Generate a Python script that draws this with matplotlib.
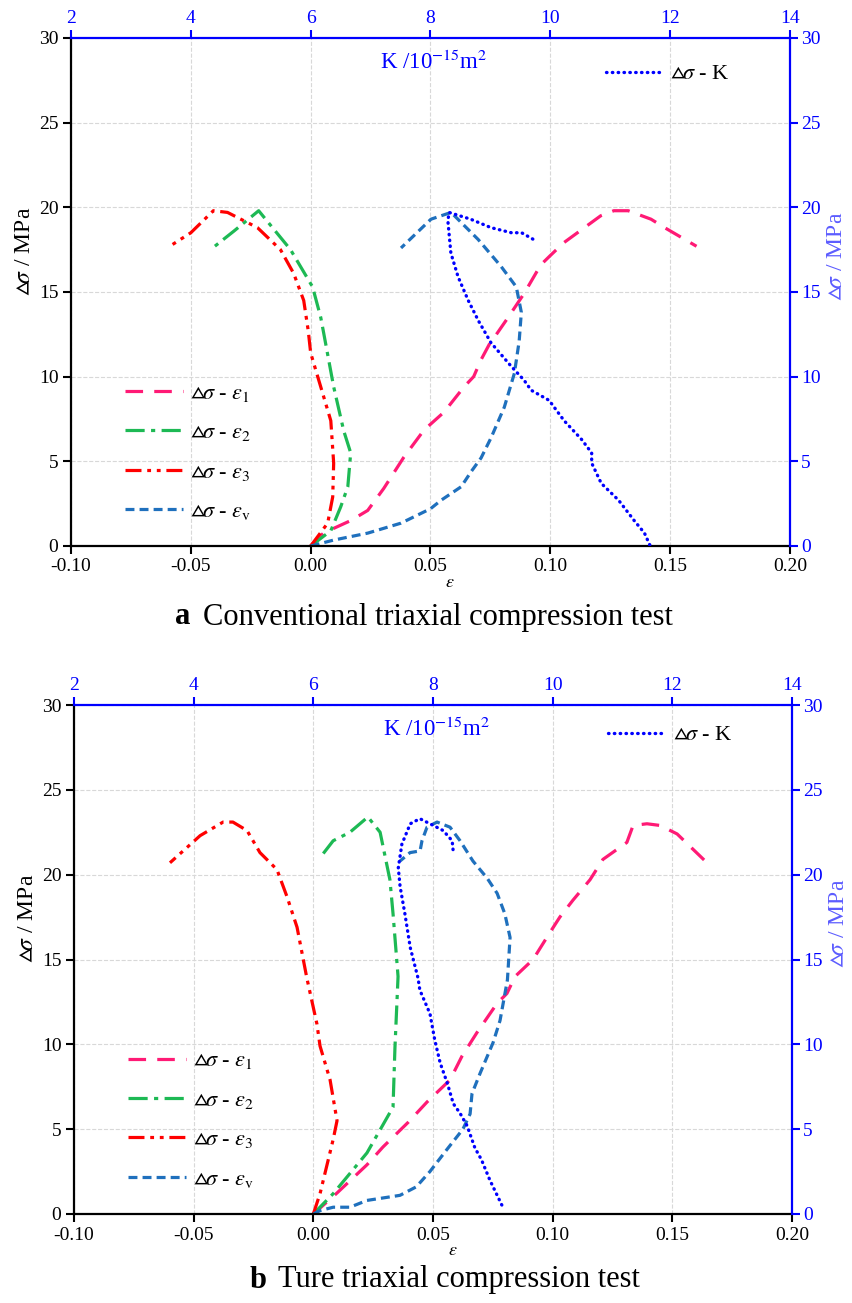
import matplotlib
matplotlib.use('Agg')
import matplotlib.pyplot as plt

plt.rcParams['font.family'] = ['Liberation Serif', 'DejaVu Serif']
plt.rcParams['mathtext.fontset'] = 'stix'

# ---- data, panel a (conventional triaxial) ----
a_e1_eps = [0, 0.0054, 0.0167, 0.0238, 0.0305, 0.0389, 0.0473, 0.0556, 0.064, 0.068, 0.0711, 0.0745,
            0.078, 0.0824, 0.089, 0.096, 0.0996, 0.1055, 0.121, 0.1265, 0.1325, 0.142, 0.1477, 0.161]
a_e1_ds = [0, 0.77, 1.5, 2.1, 3.4, 5.25, 6.85, 7.9, 9.4, 10.0, 11.0, 11.9,
           12.6, 13.5, 14.9, 16.6, 17.1, 17.9, 19.5, 19.8, 19.8, 19.3, 18.8, 17.7]
a_e2_eps = [0, 0.0084, 0.0125, 0.0155, 0.0167, 0.0138, 0.0096, 0.0054, 0.0042, 0.0008, -0.0084,
            -0.0217, -0.032, -0.0418]
a_e2_ds = [0, 0.9, 2.3, 3.5, 5.5, 6.8, 9.4, 12.6, 13.5, 15.3, 17.5, 19.8, 18.6, 17.5]
a_e3_eps = [0, 0.0071, 0.0092, 0.0096, 0.0084, 0.0042, 0, -0.001, -0.0029, -0.0071, -0.0126,
            -0.0222, -0.0347, -0.0406, -0.050, -0.0577]
a_e3_ds = [0, 1.35, 2.9, 4.9, 7.4, 9.4, 11.4, 12.7, 14.5, 16.1, 17.5, 18.8, 19.7, 19.8, 18.5, 17.8]
a_ev_eps = [0, 0.0096, 0.0238, 0.0377, 0.05, 0.0544, 0.0628, 0.067, 0.0711, 0.0753, 0.0808, 0.085,
            0.087, 0.0879, 0.0858, 0.0795, 0.0699, 0.0586, 0.0502, 0.0377]
a_ev_ds = [0, 0.35, 0.76, 1.35, 2.2, 2.7, 3.5, 4.4, 5.2, 6.4, 8.2, 10.2, 12.1, 13.8, 15.3, 16.5,
           18.1, 19.7, 19.3, 17.6]
a_k = [11.66, 11.57, 11.4, 11.14, 10.85, 10.69, 10.69, 10.52, 10.23, 9.98, 9.68, 9.56, 9.35, 9.01,
       8.8, 8.63, 8.46, 8.34, 8.29, 8.31, 8.67, 9.01, 9.35, 9.52, 9.72]
a_k_ds = [0.06, 0.77, 1.5, 2.7, 3.7, 4.9, 5.5, 6.3, 7.4, 8.6, 9.2, 9.8, 10.6, 12.0, 13.3, 14.5,
          15.9, 17.3, 19.2, 19.7, 19.3, 18.8, 18.5, 18.5, 18.1]

# ---- data, panel b (true triaxial) ----
b_e1_eps = [0, 0.0099, 0.0224, 0.0291, 0.0396, 0.0475, 0.0571, 0.0621, 0.0684, 0.0767, 0.0809, 0.0843,
            0.0918, 0.0989, 0.103, 0.1085, 0.1156, 0.121, 0.131, 0.1336, 0.1394, 0.1449, 0.152, 0.1645]
b_e1_ds = [0, 1.24, 2.9, 3.95, 5.4, 6.6, 7.9, 9.3, 10.7, 12.4, 13.0, 14.0, 15.0, 16.6, 17.5, 18.5,
           19.7, 20.9, 21.9, 22.9, 23.0, 22.9, 22.4, 20.7]
b_e2_eps = [0, 0.0083, 0.0224, 0.0333, 0.0341, 0.0354, 0.0333, 0.032, 0.0279, 0.0228, 0.0153,
            0.0083, 0.0028]
b_e2_ds = [0, 1.2, 3.6, 6.3, 9.8, 14.0, 17.7, 19.7, 22.5, 23.4, 22.5, 22.0, 21.0]
b_e3_eps = [0, 0.0028, 0.0083, 0.0099, 0.007, 0.0028, 0.0015, -0.0027, -0.0068, -0.011, -0.0152,
            -0.0223, -0.0277, -0.0336, -0.0377, -0.0473, -0.0599]
b_e3_ds = [0, 1.2, 4.4, 5.5, 7.9, 9.9, 11.2, 13.9, 16.9, 18.7, 20.3, 21.3, 22.6, 23.1, 23.1, 22.3, 20.7]
b_ev_eps = [0, 0.0028, 0.0083, 0.0153, 0.0224, 0.0362, 0.043, 0.0487, 0.0558, 0.0625, 0.0655,
            0.0663, 0.0697, 0.0751, 0.078, 0.0811, 0.0822, 0.08, 0.0768, 0.0726, 0.0667, 0.0613,
            0.0571, 0.0517, 0.0475, 0.0454, 0.0446, 0.0404, 0.0362]
b_ev_ds = [0, 0.2, 0.4, 0.4, 0.8, 1.1, 1.6, 2.5, 3.8, 5.0, 5.9, 7.1, 8.3, 10.1, 11.4, 13.8, 16.3,
           17.7, 18.9, 19.8, 20.8, 22.0, 22.8, 23.1, 22.8, 22.0, 21.4, 21.3, 20.8]
b_k = [9.15, 8.95, 8.81, 8.70, 8.57, 8.45, 8.34, 8.24, 8.12, 8.03, 7.98, 7.95, 7.78, 7.75, 7.62,
       7.53, 7.45, 7.42, 7.48, 7.62, 7.78, 7.95, 8.17, 8.32, 8.34]
b_k_ds = [0.53, 2.0, 3.2, 3.9, 5.2, 5.95, 6.5, 7.7, 8.9, 10.25, 11.2, 11.8, 13.2, 13.9, 15.7, 17.7,
          19.3, 20.4, 21.8, 23.0, 23.3, 23.0, 22.6, 22.0, 21.3]

eps_ticks = [-0.10, -0.05, 0.00, 0.05, 0.10, 0.15, 0.20]
k_ticks = [2, 4, 6, 8, 10, 12, 14]
ds_ticks = [0, 5, 10, 15, 20, 25, 30]

BLUE = '#0000ff'
styles = {
    'e1': dict(color='#ff1a75', lw=2.3, dashes=(5.5, 3.5)),
    'e2': dict(color='#1db954', lw=2.3, dashes=(6, 2, 1.3, 2)),
    'e3': dict(color='#ff0000', lw=2.3, dashes=(5, 1.8, 1.2, 1.8, 1.2, 1.8)),
    'ev': dict(color='#1f70bd', lw=2.3, dashes=(2.8, 1.6)),
    'k': dict(color=BLUE, lw=2.4, dashes=(0.15, 1.6), dash_capstyle='round'),
}
TRI = r'$\vartriangle\!\sigma$'
labels = {
    'e1': TRI + r' - $\varepsilon_1$',
    'e2': TRI + r' - $\varepsilon_2$',
    'e3': TRI + r' - $\varepsilon_3$',
    'ev': TRI + r' - $\varepsilon_{\rm v}$',
    'k': TRI + ' - K',
}

fig = plt.figure(figsize=(8.53, 13.03), dpi=100)
W, H = 853.0, 1303.0


def panel(px_l, px_r, px_b, px_t, curves, k, k_ds, letter, caption, cap_x, cap_y, k_leg_y):
    ax = fig.add_axes([px_l / W, 1 - px_b / H, (px_r - px_l) / W, (px_b - px_t) / H])
    for key in ['e1', 'e2', 'e3', 'ev']:
        x, y = curves[key]
        ax.plot(x, y, label=labels[key], **styles[key])
    ax.set_xlim(-0.1, 0.2)
    ax.set_ylim(0, 30)
    ax.set_xticks(eps_ticks)
    ax.set_xticklabels(['%.2f' % t for t in eps_ticks])
    ax.set_yticks(ds_ticks)
    ax.grid(True, color='#d8d8d8', ls='--', lw=0.8)
    ax.tick_params(direction='out', length=6, width=1.5, labelsize=14, pad=3)
    for s in ['top', 'right']:
        ax.spines[s].set_visible(False)
    for s in ['left', 'bottom']:
        ax.spines[s].set_linewidth(1.6)
    ax.set_ylabel(TRI + ' / MPa', fontsize=17)
    ax.yaxis.set_label_coords(-0.05, 0.58)
    ax.set_xlabel(r'$\varepsilon$', fontsize=13)
    ax.xaxis.set_label_coords(0.527, -0.055)
    ax.legend(loc='upper left', bbox_to_anchor=(0.047, 0.36), frameon=False, fontsize=16,
              handlelength=2.6, handletextpad=0.35, labelspacing=0.85)

    axk = ax.twiny()
    axk.plot(k, k_ds, label=labels['k'], **styles['k'])
    axk.set_xlim(2, 14)
    axk.set_xticks(k_ticks)
    axk.tick_params(direction='out', length=6, width=1.5, labelsize=14, colors=BLUE, pad=2)
    for s in ['bottom', 'left', 'right']:
        axk.spines[s].set_visible(False)
    axk.spines['top'].set_color(BLUE)
    axk.spines['top'].set_linewidth(1.6)
    axk.text(0.505, 0.952, r'K /10$^{-15}$m$^2$', transform=axk.transAxes, color=BLUE,
             fontsize=16.5, ha='center', va='center')
    axk.legend(loc='center left', bbox_to_anchor=(0.716, k_leg_y), frameon=False, fontsize=16,
               handlelength=2.5, handletextpad=0.4)

    axr = ax.twinx()
    axr.set_ylim(0, 30)
    axr.set_yticks(ds_ticks)
    axr.tick_params(direction='out', length=6, width=1.5, labelsize=14, colors=BLUE, pad=2)
    for s in ['bottom', 'left', 'top']:
        axr.spines[s].set_visible(False)
    axr.spines['right'].set_color(BLUE)
    axr.spines['right'].set_linewidth(1.6)
    axr.set_ylabel(TRI + ' / MPa', fontsize=17, color='#5c5cff')
    axr.yaxis.set_label_coords(1.05, 0.57)

    fig.text(cap_x / W, 1 - cap_y / H, letter, fontsize=22, fontweight='bold',
             ha='left', va='center')
    fig.text((cap_x + 28) / W, 1 - cap_y / H, caption, fontsize=22, ha='left', va='center')


panel(71, 790, 546, 38,
      {'e1': (a_e1_eps, a_e1_ds), 'e2': (a_e2_eps, a_e2_ds),
       'e3': (a_e3_eps, a_e3_ds), 'ev': (a_ev_eps, a_ev_ds)},
      a_k, a_k_ds, 'a', 'Conventional triaxial compression test', 175, 617, 0.929)
panel(74, 792, 1214, 705,
      {'e1': (b_e1_eps, b_e1_ds), 'e2': (b_e2_eps, b_e2_ds),
       'e3': (b_e3_eps, b_e3_ds), 'ev': (b_ev_eps, b_ev_ds)},
      b_k, b_k_ds, 'b', 'Ture triaxial compression test', 250, 1280, 0.941)

fig.savefig('out.png', dpi=100, facecolor='white')
